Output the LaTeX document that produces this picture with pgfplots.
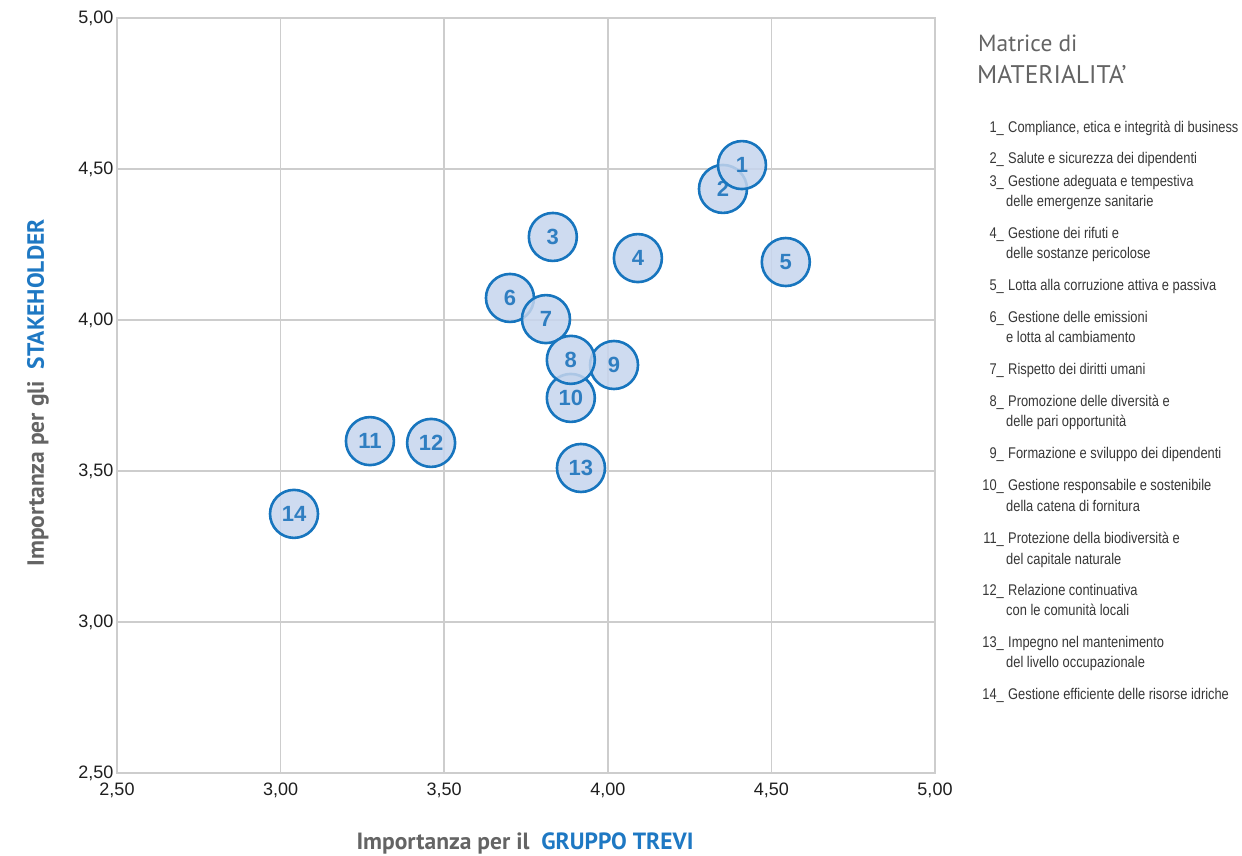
\documentclass[border=0pt]{standalone}
\usepackage{fontspec}
\setmainfont{Liberation Sans}
\newfontfamily\titlefont{PT Sans}
\newfontfamily\condfont[FakeStretch=0.83]{Liberation Sans}
\usepackage{pgfplots}
\usepackage{pgfplotstable}
\pgfplotsset{compat=1.18}

\definecolor{circfill}{RGB}{198,213,237}
\definecolor{circblue}{RGB}{23,117,190}
\definecolor{numblue}{RGB}{20,110,185}
\definecolor{labblue}{RGB}{30,120,195}
\definecolor{labgray}{RGB}{100,100,100}
\definecolor{gridgray}{RGB}{205,205,205}
\definecolor{tickgray}{RGB}{30,30,30}
\definecolor{listgray}{RGB}{55,55,55}

% temi materiali: x = gruppo, y = stakeholder
\pgfplotstableread{
x     y     lab
4.352 4.434 2
4.410 4.513 1
3.832 4.275 3
4.092 4.205 4
4.544 4.192 5
3.701 4.073 6
3.811 4.003 7
4.019 3.851 9
3.887 3.742 10
3.887 3.868 8
3.273 3.599 11
3.460 3.593 12
3.918 3.510 13
3.041 3.358 14
}\points

\newcommand\entry[3]{%
  \node[anchor=base east, inner sep=0] at (1004,{855-#2}) {#1\_};
  \node[anchor=base west, inner sep=0] at (1008,{855-#2}) {#3};}
\newcommand\cont[2]{%
  \node[anchor=base west, inner sep=0] at (1006,{855-#1}) {#2};}

\begin{document}
\begin{tikzpicture}[x=1pt,y=1pt]
\useasboundingbox (0,0) rectangle (1242,855);
\begin{axis}[
  at={(117pt,82pt)}, anchor=south west,
  scale only axis, width=818pt, height=755pt,
  xmin=2.5, xmax=5, ymin=2.5, ymax=5,
  xtick={2.5,3,3.5,4,4.5,5},
  ytick={2.5,3,3.5,4,4.5,5},
  xticklabels={{2,50},{3,00},{3,50},{4,00},{4,50},{5,00}},
  yticklabels={{2,50},{3,00},{3,50},{4,00},{4,50},{5,00}},
  grid=major,
  grid style={line width=1.6pt, gridgray},
  axis line style={line width=1.6pt, gridgray},
  major tick length=0pt,
  ticklabel style={font=\fontsize{18}{21}\selectfont, text=tickgray},
  xticklabel style={yshift=-6pt},
  clip=false,
]
\addplot[only marks, mark=*, mark size=24pt,
  mark options={fill=circfill, draw=circblue, line width=2.6pt, fill opacity=0.85},
  nodes near coords, point meta=explicit symbolic,
  nodes near coords style={anchor=center, font=\fontsize{22}{26}\selectfont\bfseries, text=numblue}]
  table[x=x, y=y, meta=lab] {\points};
\end{axis}

\node[font=\titlefont\bfseries\fontsize{23.5}{27}\selectfont] at (525,12)
  {{\color{labgray}Importanza per il}\ \ {\color{labblue}GRUPPO TREVI}};
\node[rotate=90, font=\titlefont\bfseries\fontsize{23.5}{27}\selectfont] at (38,462)
  {{\color{labgray}Importanza per gli}\ \ {\color{labblue}STAKEHOLDER}};

\begin{scope}[text=labgray]
  \node[anchor=base west, inner sep=0, font=\titlefont\fontsize{23.4}{27}\selectfont] at (978,{855-52}) {Matrice di};
  \node[anchor=base west, inner sep=0, font=\titlefont\fontsize{25.5}{29}\selectfont] at (977,{855-84}) {MATERIALITA’};
\end{scope}

\begin{scope}[font=\condfont\fontsize{15.5}{18}\selectfont, text=listgray]
  \entry{1}{133}{Compliance, etica e integrità di business}
  \entry{2}{164}{Salute e sicurezza dei dipendenti}
  \entry{3}{187}{Gestione adeguata e tempestiva}
  \cont{207}{delle emergenze sanitarie}
  \entry{4}{239}{Gestione dei rifuti e}
  \cont{259}{delle sostanze pericolose}
  \entry{5}{291}{Lotta alla corruzione attiva e passiva}
  \entry{6}{323}{Gestione delle emissioni}
  \cont{343}{e lotta al cambiamento}
  \entry{7}{375}{Rispetto dei diritti umani}
  \entry{8}{407}{Promozione delle diversità e}
  \cont{427}{delle pari opportunità}
  \entry{9}{459}{Formazione e sviluppo dei dipendenti}
  \entry{10}{491}{Gestione responsabile e sostenibile}
  \cont{511}{della catena di fornitura}
  \entry{11}{543}{Protezione della biodiversità e}
  \cont{564}{del capitale naturale}
  \entry{12}{595}{Relazione continuativa}
  \cont{615}{con le comunità locali}
  \entry{13}{647}{Impegno nel mantenimento}
  \cont{667}{del livello occupazionale}
  \entry{14}{699}{Gestione efficiente delle risorse idriche}
\end{scope}
\end{tikzpicture}
\end{document}
